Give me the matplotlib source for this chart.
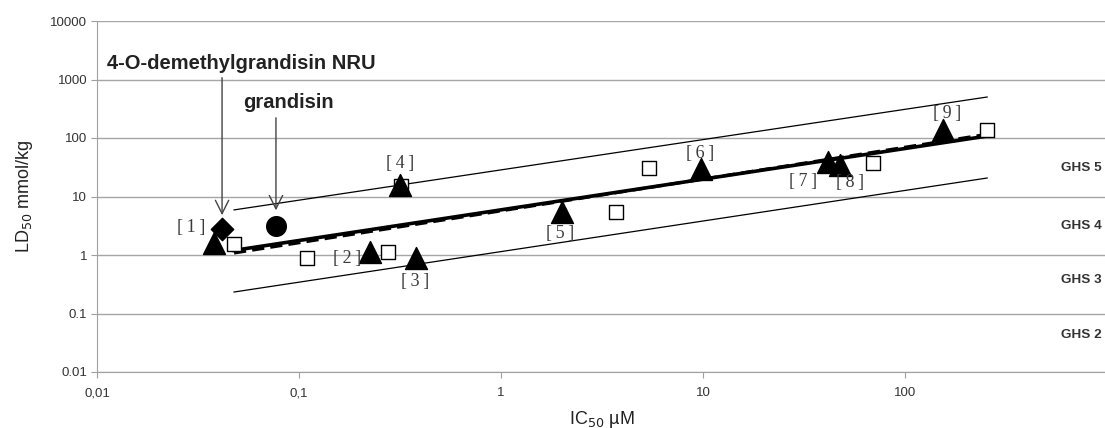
import matplotlib.pyplot as plt
from matplotlib.ticker import FixedLocator, FixedFormatter, NullLocator

# reference compounds (filled triangles), IC50 in uM, LD50 in mmol/kg
ref_ic50 = [0.038, 0.224, 0.379, 0.318, 2.0, 9.8, 41.6, 47.6, 155]
ref_ld50 = [1.6, 1.12, 0.89, 15.7, 5.5, 29.5, 39, 34.5, 137]
ref_names = ["[\u20091\u2009]", "[\u20092\u2009]", "[\u20093\u2009]", "[\u20094\u2009]",
             "[\u20095\u2009]", "[\u20096\u2009]", "[\u20097\u2009]", "[\u20098\u2009]",
             "[\u20099\u2009]"]

# other compounds (open squares)
sq_ic50 = [0.0477, 0.11, 0.276, 0.32, 3.7, 5.4, 69.5, 255]
sq_ld50 = [1.54, 0.89, 1.12, 15.0, 5.5, 30.7, 37.8, 137]

# test compounds
demethyl_ic50, demethyl_ld50 = 0.0416, 2.78
grandisin_ic50, grandisin_ld50 = 0.0769, 3.13

# regression line and its +/- band (end points)
fit_x = [0.0477, 255]
fit_y = [1.2, 108]
fit2_y = [1.08, 116]
upper_y = [5.9, 502]
lower_y = [0.233, 20.7]

ghs_labels = ["GHS 5", "GHS 4", "GHS 3", "GHS 2"]
ghs_y = [30.7, 3.13, 0.374, 0.043]

fig = plt.figure(figsize=(11.05, 4.28), dpi=100)
ax = fig.add_axes([97 / 1105, 56 / 428, 1010 / 1105, 351 / 428])
ax.set_xscale("log")
ax.set_yscale("log")
ax.set_xlim(0.01, 1000)
ax.set_ylim(0.01, 10000)

# band lines
ax.plot(fit_x, upper_y, color="black", lw=0.9, zorder=2)
ax.plot(fit_x, lower_y, color="black", lw=0.9, zorder=2)
ax.plot(fit_x, fit_y, color="black", lw=2.6, zorder=2)
ax.plot(fit_x, fit2_y, color="black", lw=2.2, ls=(0, (4, 2)), zorder=2)

ax.scatter(sq_ic50, sq_ld50, marker="s", s=100, facecolor="white",
           edgecolor="black", linewidth=1.0, zorder=3)
ax.scatter(ref_ic50, ref_ld50, marker="^", s=250, color="black", zorder=4)
ax.scatter([demethyl_ic50], [demethyl_ld50], marker="D", s=130, color="black", zorder=4)
ax.scatter([grandisin_ic50], [grandisin_ld50], marker="o", s=200, color="black", zorder=4)

offsets = [(-23, 16), (-23, -6), (-1, -24), (0, 22), (-2, -22),
           (-1, 16), (-25, -20), (10, -17), (4, 17)]
for x, y, name, off in zip(ref_ic50, ref_ld50, ref_names, offsets):
    ax.annotate(name, (x, y), xytext=off, textcoords="offset pixels",
                ha="center", va="center", fontsize=13, color="#3a3a3a",
                family=["Liberation Serif", "DejaVu Serif"], zorder=5)

ax.annotate("", xy=(demethyl_ic50, 4.3), xytext=(demethyl_ic50, 1200),
            arrowprops=dict(arrowstyle="->", color="#444444", lw=1.0,
                            mutation_scale=24))
ax.annotate("", xy=(grandisin_ic50, 5.2), xytext=(grandisin_ic50, 247),
            arrowprops=dict(arrowstyle="->", color="#444444", lw=1.0,
                            mutation_scale=24))
ax.text(0.0112, 1914, "4-O-demethylgrandisin NRU", fontsize=14.5,
        fontweight="bold", family="Liberation Sans", color="#222222",
        va="center")
ax.text(0.0529, 412, "grandisin", fontsize=14.5, fontweight="bold",
        family="Liberation Sans", color="#222222", va="center")

for lab, y in zip(ghs_labels, ghs_y):
    ax.text(0.995, y, lab, transform=ax.get_yaxis_transform(), ha="right",
            va="center", fontsize=9.7, fontweight="bold",
            family="Liberation Sans", color="#333333")

# excel-like axes
ax.grid(axis="y", which="major", color="#a6a6a6", lw=1.0)
ax.set_axisbelow(True)
for s in ["top", "right"]:
    ax.spines[s].set_visible(False)
for s in ["left", "bottom"]:
    ax.spines[s].set_color("#a0a0a0")
ax.yaxis.set_major_locator(FixedLocator([0.01, 0.1, 1, 10, 100, 1000, 10000]))
ax.yaxis.set_major_formatter(FixedFormatter(["0.01", "0.1", "1", "10", "100", "1000", "10000"]))
ax.yaxis.set_minor_locator(NullLocator())
ax.xaxis.set_major_locator(FixedLocator([0.01, 0.1, 1, 10, 100]))
ax.xaxis.set_major_formatter(FixedFormatter(["0,01", "0,1", "1", "10", "100"]))
ax.xaxis.set_minor_locator(NullLocator())
ax.tick_params(axis="both", length=4, color="#a0a0a0", labelcolor="#333333")
ax.tick_params(axis="y", labelsize=9.5, pad=3)
ax.tick_params(axis="x", labelsize=9.5, pad=7)
for t in ax.get_xticklabels() + ax.get_yticklabels():
    t.set_family("Liberation Sans")

ax.set_xlabel("IC$_{50}$ µM", fontsize=13, family="Liberation Sans", color="#222222", labelpad=7)
ax.set_ylabel("LD$_{50}$ mmol/kg", fontsize=13, family="Liberation Sans", color="#222222", labelpad=11)

fig.savefig("out.png", dpi=100)
